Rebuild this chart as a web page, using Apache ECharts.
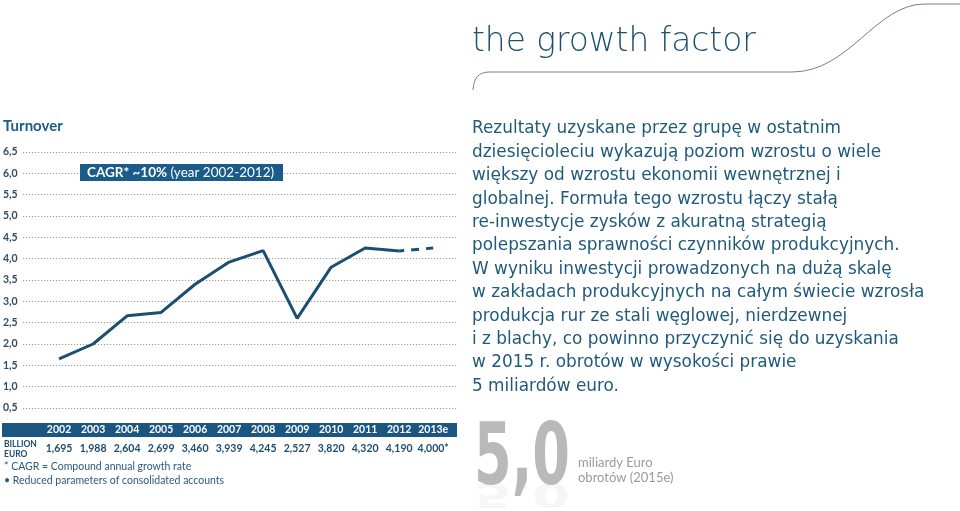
<!DOCTYPE html>
<html>
<head>
<meta charset="utf-8">
<script src="https://cdn.jsdelivr.net/npm/echarts@6/dist/echarts.min.js"></script>
<style>
html,body{margin:0;padding:0;background:#fff;}
#c{width:960px;height:511px;}
</style>
</head>
<body>
<div id="c"></div>
<script>
// ---- data ----
var years = ['2002','2003','2004','2005','2006','2007','2008','2009','2010','2011','2012','2013e'];
var yearNums = [2002,2003,2004,2005,2006,2007,2008,2009,2010,2011,2012,2013];
var tableValues = ['1,695','1,988','2,604','2,699','3,460','3,939','4,245','2,527','3,820','4,320','4,190','4,000*'];
// line as plotted in the picture (billion euro)
var lineValues = [1.65, 2.00, 2.66, 2.74, 3.40, 3.92, 4.19, 2.60, 3.80, 4.25, 4.18];
var estimateValues = [4.18, 4.25]; // 2012 -> 2013e dashed
var yTicks = {min: 0.5, max: 6.5, interval: 0.5};
var paragraph = [
 'Rezultaty uzyskane przez grupę w ostatnim',
 'dziesięcioleciu wykazują poziom wzrostu o wiele',
 'większy od wzrostu ekonomii wewnętrznej i',
 'globalnej. Formuła tego wzrostu łączy stałą',
 're-inwestycje zysków z akuratną strategią',
 'polepszania sprawności czynników produkcyjnych.',
 'W wyniku inwestycji prowadzonych na dużą skalę',
 'w zakładach produkcyjnych na całym świecie wzrosła',
 'produkcja rur ze stali węglowej, nierdzewnej',
 'i z blachy, co powinno przyczynić się do uzyskania',
 'w 2015 r. obrotów w wysokości prawie',
 '5 miliardów euro.'
];

var NAVY = '#1b4f72';
var BLUE = '#1d5b87';
var FONT = 'Lato, "Noto Sans", sans-serif';
var FONT3 = '"DejaVu Sans", "Noto Sans", sans-serif';

var chart = echarts.init(document.getElementById('c'), null, {renderer: 'canvas'});

var mainData = yearNums.slice(0, lineValues.length).map(function (y, i) { return [y, lineValues[i]]; });
var estData = [[yearNums[10], estimateValues[0]], [yearNums[11], estimateValues[1]]];

var option = {
  animation: false,
  backgroundColor: '#fff',
  grid: {left: 22, right: 503, top: 152, bottom: 103, containLabel: false},
  xAxis: {
    type: 'value', min: 2000.94, max: 2013.7,
    axisLine: {show: false}, axisTick: {show: false}, axisLabel: {show: false}, splitLine: {show: false}
  },
  yAxis: {
    type: 'value', min: yTicks.min, max: yTicks.max, interval: yTicks.interval,
    axisLine: {show: false}, axisTick: {show: false},
    axisLabel: {
      inside: false, margin: 20, align: 'left',
      color: '#2b4d6b', fontFamily: FONT, fontWeight: 'bold', fontSize: 10.5,
      formatter: function (v) { return v.toFixed(1).replace('.', ','); }
    },
    splitLine: {show: true, lineStyle: {color: '#9a9a9a', type: [1.2, 1.8], width: 1}}
  },
  series: [
    {type: 'line', data: mainData, symbol: 'none', lineStyle: {color: NAVY, width: 3}, z: 3},
    {type: 'line', data: estData, symbol: 'none', lineStyle: {color: NAVY, width: 3, type: [8, 7], dashOffset: 3}, z: 3}
  ]
};
chart.setOption(option);

// build graphics
var g = [];
// title
g.push({type: 'text', x: 472, y: 42, style: {text: 'the growth factor', font: '300 32.8px "DejaVu Sans ExtraLight", "DejaVu Sans", sans-serif', fill: '#1d4f6e', verticalAlign: 'middle'}});
// swoosh
var sw = {stroke: '#6a8396', lineWidth: 1, fill: null};
g.push({type: 'bezierCurve', shape: {x1: 473, y1: 90, cpx1: 474, cpy1: 78, cpx2: 478, cpy2: 72, x2: 490, y2: 72}, style: sw});
g.push({type: 'line', shape: {x1: 490, y1: 72, x2: 792, y2: 72}, style: sw});
g.push({type: 'bezierCurve', shape: {x1: 792, y1: 72, cpx1: 850, cpy1: 72, cpx2: 875, cpy2: 4, x2: 925, y2: 4}, style: sw});
g.push({type: 'line', shape: {x1: 925, y1: 4, x2: 960, y2: 4}, style: sw});
// Turnover
g.push({type: 'text', x: 3, y: 126, style: {text: 'Turnover', font: 'bold 15px ' + FONT, fill: BLUE, verticalAlign: 'middle'}});
// CAGR box
g.push({type: 'rect', shape: {x: 80, y: 164, width: 203, height: 17}, style: {fill: '#1a5b89'}});
g.push({type: 'text', x: 87, y: 172.5, style: {
  text: '{b|CAGR* ~10%} {r|(year 2002-2012)}', verticalAlign: 'middle',
  rich: {b: {font: 'bold 13.5px ' + FONT, fill: '#fff'}, r: {font: '13.5px ' + FONT, fill: '#fff'}}
}});
// table band
g.push({type: 'rect', shape: {x: 2, y: 423, width: 455, height: 14}, style: {fill: '#1b5682'}});
for (var i = 0; i < years.length; i++) {
  var px = chart.convertToPixel({xAxisIndex: 0}, yearNums[i]);
  g.push({type: 'text', x: px, y: 430, style: {text: years[i], font: 'bold 10.5px ' + FONT, fill: '#fff', align: 'center', verticalAlign: 'middle'}});
  g.push({type: 'text', x: px, y: 449, style: {text: tableValues[i], font: 'bold 10.5px ' + FONT, fill: '#1e4d72', align: 'center', verticalAlign: 'middle'}});
}
g.push({type: 'text', x: 4, y: 439, style: {text: 'BILLION\nEURO', font: 'bold 8.5px ' + FONT, fill: '#1e4d72', lineHeight: 10}});
g.push({type: 'text', x: 4, y: 467, style: {text: '* CAGR = Compound annual growth rate', font: '10.5px ' + FONT, fill: '#2c5a7e', verticalAlign: 'middle'}});
g.push({type: 'text', x: 4, y: 481, style: {text: '\u2022 Reduced parameters of consolidated accounts', font: '10.5px ' + FONT, fill: '#2c5a7e', verticalAlign: 'middle'}});
// paragraph
for (var j = 0; j < paragraph.length; j++) {
  g.push({type: 'text', x: 472, y: 129 + j * 23.4, style: {text: paragraph[j], font: '16.9px ' + FONT3, fill: '#1f5a7c', verticalAlign: 'middle'}});
}
// big 5,0 with reflection
var bigFont = 'bold 86px "DejaVu Sans Condensed", "Liberation Sans Narrow", sans-serif';
g.push({type: 'text', x: 474, y: 462, scaleX: 0.70, style: {text: '5,0', font: bigFont, fill: '#b9b9b9', verticalAlign: 'middle'}});
g.push({type: 'text', x: 474, y: 475, scaleX: 0.70, scaleY: -0.4, style: {text: '5,0', font: bigFont, fill: '#b9b9b9', opacity: 0.12, verticalAlign: 'bottom'}});
g.push({type: 'text', x: 578, y: 455, style: {text: 'miliardy Euro\nobrotów (2015e)', font: '13px ' + FONT, fill: '#9a9a9a', lineHeight: 15}});

chart.setOption({graphic: {elements: g}});
</script>
</body>
</html>
